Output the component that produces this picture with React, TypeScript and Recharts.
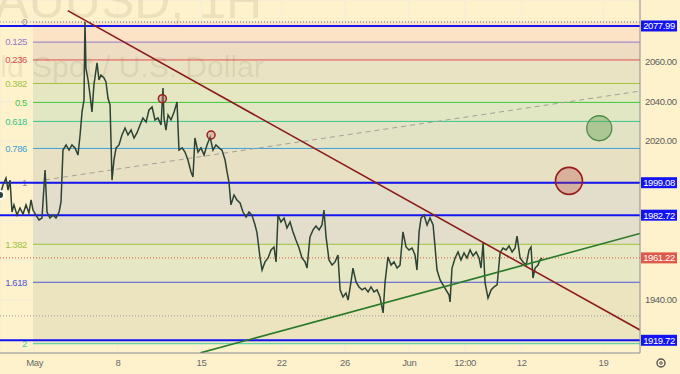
import React from "react";
import {
  ComposedChart,
  Line,
  XAxis,
  YAxis,
  CartesianGrid,
  ReferenceLine,
  ReferenceArea,
  ReferenceDot,
} from "recharts";

const W = 680;
const H = 374;
const FONT = "'Liberation Sans', Arial, sans-serif";

// hourly track, x = trading day (May 1 = 0), y = price
const days = [
  -2.02, -1.84, -1.66, -1.53, -1.41, -1.29, -1.17, -0.98, -0.8, -0.61, -0.43, -0.25, -0.12, 0, 0.18,
  0.37, 0.55, 0.74, 0.86, 1.04, 1.23, 1.41, 1.6, 1.72, 1.84, 2.03, 2.21, 2.39, 2.58, 2.76, 2.89, 3.01,
  3.13, 3.19, 3.25, 3.38, 3.5, 3.62, 3.74, 3.93, 4.05, 4.17, 4.36, 4.48, 4.6, 4.73, 4.85, 4.97, 5.1,
  5.28, 5.46, 5.65, 5.83, 6.02, 6.2, 6.38, 6.57, 6.75, 6.94, 7.12, 7.31, 7.49, 7.67, 7.86, 7.98, 8.04,
  8.16, 8.29, 8.47, 8.66, 8.84, 8.96, 9.15, 9.33, 9.51, 9.7, 9.82, 9.94, 10.13, 10.31, 10.5, 10.68,
  10.87, 11.05, 11.23, 11.42, 11.6, 11.79, 11.91, 12.03, 12.15, 12.34, 12.52, 12.71, 12.89, 13.08,
  13.26, 13.44, 13.63, 13.75, 13.93, 14.06, 14.24, 14.43, 14.61, 14.79, 14.92, 15.04, 15.22, 15.41,
  15.59, 15.78, 15.96, 16.14, 16.33, 16.51, 16.7, 16.82, 17.0, 17.19, 17.37, 17.56, 17.74, 17.86,
  17.99, 18.17, 18.36, 18.54, 18.72, 18.85, 19.03, 19.21, 19.34, 19.52, 19.64, 19.83, 20.01, 20.2,
  20.38, 20.57, 20.75, 20.93, 21.12, 21.3, 21.49, 21.61, 21.79, 21.98, 22.16, 22.35, 22.53, 22.71,
  22.9, 23.08, 23.27, 23.45, 23.57, 23.7, 23.82, 24.0, 24.19, 24.37, 24.56, 24.68, 24.8, 24.99, 25.17,
  25.35, 25.54, 25.6, 25.72, 25.91, 26.09, 26.27, 26.46, 26.64, 26.83, 27.01, 27.2, 27.38, 27.5,
  27.63, 27.75, 27.93, 28.12, 28.3, 28.49, 28.67, 28.85, 29.04, 29.22, 29.41, 29.59, 29.71, 29.9,
  30.08, 30.27, 30.45, 30.57, 30.69, 30.82, 31.0, 31.12, 31.25,
];
const prices = [
  1992.9, 1997.9, 2001.4, 1995.4, 2000.4, 1984.3, 1987.9, 1982.8, 1986.3, 1983.3, 1987.9, 1983.8,
  1990.4, 1985.3, 1982.8, 1980.3, 1981.3, 2005.5, 1984.3, 1981.3, 1982.8, 1981.3, 1984.3, 1989.4,
  2015.5, 2018.1, 2015.5, 2018.1, 2016.6, 2013.0, 2023.1, 2034.7, 2040.7, 2080.0, 2056.8, 2050.8,
  2043.2, 2034.7, 2048.3, 2059.4, 2050.8, 2053.3, 2051.8, 2049.8, 2041.7, 2038.2, 2000.4, 2010.5,
  2016.6, 2018.1, 2023.1, 2026.6, 2023.1, 2025.6, 2021.6, 2024.1, 2028.1, 2031.7, 2029.6, 2035.7,
  2037.2, 2030.7, 2031.7, 2028.1, 2046.8, 2031.7, 2025.6, 2033.2, 2030.7, 2034.7, 2039.7, 2015.5,
  2016.6, 2014.5, 2010.5, 2004.5, 2002.0, 2021.6, 2014.5, 2016.6, 2013.0, 2018.1, 2022.1, 2015.5,
  2018.1, 2016.6, 2015.5, 2010.5, 2004.5, 1999.4, 1987.9, 1992.9, 1990.4, 1988.9, 1984.3, 1981.8,
  1984.3, 1982.8, 1977.8, 1973.8, 1961.7, 1955.1, 1959.2, 1961.2, 1965.2, 1966.7, 1959.2, 1982.8,
  1979.3, 1981.3, 1976.3, 1979.3, 1974.3, 1970.2, 1966.2, 1961.2, 1959.2, 1956.1, 1971.7, 1975.3,
  1977.3, 1975.3, 1977.8, 1985.3, 1971.7, 1960.2, 1957.6, 1959.2, 1962.7, 1945.1, 1941.5, 1943.5,
  1940.0, 1949.1, 1956.1, 1949.1, 1946.6, 1945.1, 1946.1, 1944.1, 1946.6, 1944.1, 1945.1, 1941.5,
  1933.5, 1949.1, 1961.7, 1957.6, 1959.2, 1956.1, 1957.6, 1974.3, 1966.7, 1965.2, 1966.2, 1962.7,
  1955.1, 1974.3, 1981.3, 1982.8, 1977.8, 1981.3, 1977.8, 1966.7, 1955.1, 1950.1, 1947.6, 1945.1,
  1942.5, 1939.0, 1956.1, 1961.2, 1964.2, 1960.2, 1963.7, 1961.2, 1965.2, 1962.2, 1964.2, 1961.2,
  1956.1, 1968.7, 1948.6, 1941.0, 1945.1, 1946.6, 1947.6, 1963.7, 1966.2, 1965.2, 1967.2, 1964.2,
  1966.2, 1972.2, 1961.2, 1959.2, 1957.6, 1965.2, 1966.7, 1951.1, 1956.1, 1957.6, 1960.2, 1961.2,
];

const tickDays = [0.1, 5.21, 10.34, 15.27, 19.15, 23.1, 26.52, 30.0, 35.02];
const tickLabels = ["May", "8", "15", "22", "26", "Jun", "12:00", "12", "19"];

const priceTicks = [2080, 2060, 2040, 2020, 2000, 1980, 1960, 1940, 1920];
const shownPriceTicks = [2060, 2040, 2020, 1940];

const fibHigh = 2080.0;
const fibLow = 1999.0;
const fibRatios = [0, 0.125, 0.236, 0.382, 0.5, 0.618, 0.786, 1, 1.382, 1.618, 2];
const fibLabels = ["0", "0.125", "0.236", "0.382", "0.5", "0.618", "0.786", "1", "1.382", "1.618", "2"];
const fibColors = [
  "#8a8c94", "#9379cf", "#dd5050", "#a3c23c", "#3fc83f", "#36c48e",
  "#3e9fd8", "#8a8c94", "#9ec43c", "#4d58d6", "#3ecf9f",
];
const fibFills = [
  "#fce3c5", "#eedcc3", "#e9e3c3", "#e5e7c2", "#e2e7c3",
  "#e2e3c5", "#e8e0c2", "#e2decb", "#e6e7c4", "#ece4bf",
];

const keyLevels = [2077.99, 1999.08, 1982.72, 1919.72];
const lastPrice = 1961.22;
const dottedLevels = [2080.0, 1932.0];

const redTrend = [{ x: 2.13, y: 2085.7 }, { x: 37.26, y: 1924.9 }];
const greenTrend = [{ x: 10.28, y: 1913.4 }, { x: 37.26, y: 1973.5 }];
const grayTrend = [{ x: 0.74, y: 2000.5 }, { x: 37.26, y: 2045.2 }];
const smallMarks = [{ x: 7.94, y: 2041.4 }, { x: 10.93, y: 2023.1 }];
const redTarget = { x: 32.9, y: 2000.0 };
const greenTarget = { x: 34.76, y: 2026.5 };

const X_DOMAIN: [number, number] = [-2.026, 37.26];
const Y_DOMAIN: [number, number] = [1913.33, 2091.07];

const data = days.map((d, i) => ({ d, p: prices[i] }));
const fibPrice = (r: number) => fibHigh - r * (fibHigh - fibLow);

const txt = { fontSize: 9.5, fontFamily: FONT, letterSpacing: -0.4 };

const boxLabel = (fill: string, text: string) => (props: any) => {
  const vb = props.viewBox || {};
  const x = (vb.x || 0) + (vb.width || 0);
  const y = vb.y || 0;
  return (
    <g>
      <rect x={x + 1} y={y - 5.5} width={36} height={11} fill={fill} />
      <text x={x + 19} y={y} dy="0.35em" textAnchor="middle" fill="#ffffff" {...txt}>
        {text}
      </text>
    </g>
  );
};

const fibLabel = (color: string, text: string) => (props: any) => {
  const vb = props.viewBox || {};
  return (
    <text x={(vb.x || 0) - 6} y={vb.y || 0} dy="0.35em" textAnchor="end" fill={color} {...txt}>
      {text}
    </text>
  );
};

const PriceTick = (props: any) => {
  const v = props.payload?.value;
  if (!shownPriceTicks.includes(v)) return <g />;
  return (
    <text x={645} y={props.y} dy="0.35em" textAnchor="start" fill="#5d5d5d" {...txt}>
      {v.toFixed(2)}
    </text>
  );
};

export default function App() {
  return (
    <div
      style={{
        position: "absolute",
        left: 0,
        top: 0,
        width: W,
        height: H,
        background: "#fef2cd",
        fontFamily: FONT,
      }}
    >
      <ComposedChart width={W} height={H} data={data} margin={{ top: 0, right: 0, bottom: 0, left: 0 }}>
        <CartesianGrid stroke="#f2ecd8" />
        <XAxis
          type="number"
          dataKey="d"
          domain={X_DOMAIN}
          allowDataOverflow
          ticks={tickDays}
          interval={0}
          height={21}
          tickLine={false}
          tickSize={4}
          tickMargin={2}
          axisLine={{ stroke: "#8e8e8e" }}
          tick={{ fill: "#6a6a6a", ...txt }}
          tickFormatter={(v: number) => tickLabels[tickDays.indexOf(v)] ?? ""}
        />
        <YAxis
          orientation="right"
          type="number"
          domain={Y_DOMAIN}
          allowDataOverflow
          ticks={priceTicks}
          interval={0}
          width={40}
          tickLine={false}
          axisLine={{ stroke: "#8e8e8e" }}
          tick={<PriceTick />}
        />

        {fibFills.map((f, i) => (
          <ReferenceArea
            key={"band" + i}
            x1={0}
            y1={fibPrice(fibRatios[i])}
            y2={fibPrice(fibRatios[i + 1])}
            fill={f}
            fillOpacity={1}
            stroke="none"
            ifOverflow="visible"
          />
        ))}

        {fibRatios.map((r, i) => (
          <ReferenceLine
            key={"fib" + i}
            segment={[
              { x: 0, y: fibPrice(r) },
              { x: X_DOMAIN[1], y: fibPrice(r) },
            ]}
            stroke={fibColors[i]}
            strokeWidth={1}
            strokeDasharray={i === 0 ? "1 2" : undefined}
            ifOverflow="visible"
            label={fibLabel(fibColors[i], fibLabels[i])}
          />
        ))}

        {dottedLevels.map((v) => (
          <ReferenceLine key={"dot" + v} y={v} stroke="#9a9a9a" strokeDasharray="1 2" />
        ))}

        <ReferenceLine
          y={lastPrice}
          stroke="#e0533f"
          strokeDasharray="1 2"
          label={boxLabel("#e0584a", lastPrice.toFixed(2))}
        />

        {keyLevels.map((v) => (
          <ReferenceLine
            key={"key" + v}
            y={v}
            stroke="#1414f2"
            strokeWidth={2}
            label={boxLabel("#1414f2", v.toFixed(2))}
          />
        ))}

        <ReferenceLine
          segment={grayTrend}
          stroke="#a3a09a"
          strokeWidth={1}
          strokeDasharray="5 4"
          ifOverflow="hidden"
        />

        <Line
          dataKey="p"
          type="linear"
          stroke="#2c4234"
          strokeWidth={1.5}
          dot={false}
          isAnimationActive={false}
        />

        <ReferenceLine segment={redTrend} stroke="#8c1c1c" strokeWidth={1.6} ifOverflow="hidden" />
        <ReferenceLine segment={greenTrend} stroke="#2a7a2a" strokeWidth={1.6} ifOverflow="hidden" />

        {smallMarks.map((m, i) => (
          <ReferenceDot
            key={"m" + i}
            x={m.x}
            y={m.y}
            r={4}
            fill="#c98a7e"
            fillOpacity={0.45}
            stroke="#9b1e1e"
            strokeWidth={1.5}
          />
        ))}
        <ReferenceDot
          x={redTarget.x}
          y={redTarget.y}
          r={13.5}
          fill="#b5423a"
          fillOpacity={0.3}
          stroke="#981c1c"
          strokeWidth={1.6}
        />
        <ReferenceDot
          x={greenTarget.x}
          y={greenTarget.y}
          r={12.5}
          fill="#5c9a4c"
          fillOpacity={0.4}
          stroke="#4f8a4a"
          strokeWidth={1.3}
        />
      </ComposedChart>

      <svg
        width={W}
        height={H}
        style={{ position: "absolute", left: 0, top: 0, pointerEvents: "none" }}
      >
        <text x={112} y={18} textAnchor="middle" fontSize={50} fontFamily={FONT} fill="#5a4a20" fillOpacity={0.1}>
          XAUUSD, 1H
        </text>
        <text x={112} y={77} textAnchor="middle" fontSize={30} fontFamily={FONT} fill="#5a4a20" fillOpacity={0.1}>
          Gold Spot / U.S. Dollar
        </text>
        <circle cx={661} cy={363} r={4} fill="none" stroke="#555" strokeWidth={1.4} />
        <circle cx={661} cy={363} r={1.3} fill="none" stroke="#555" strokeWidth={1} />
      </svg>
    </div>
  );
}
